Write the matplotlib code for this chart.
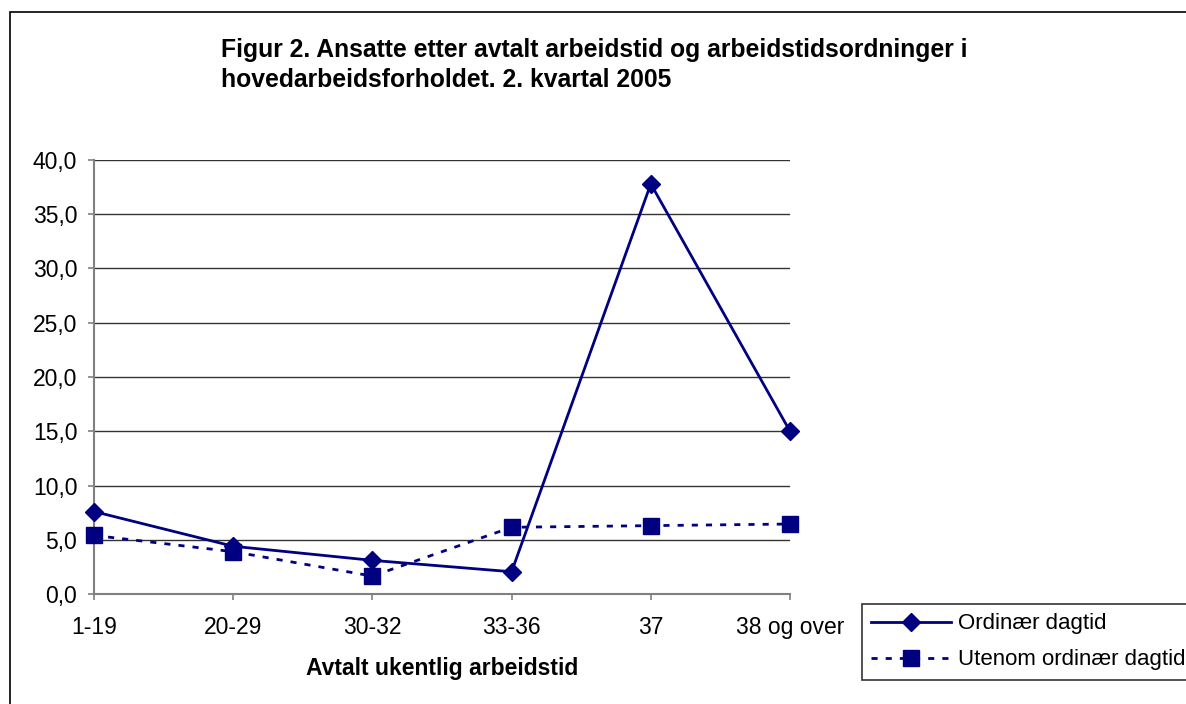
import matplotlib.pyplot as plt
from matplotlib.patches import Rectangle
from matplotlib.ticker import FuncFormatter

plt.rcParams['font.family'] = ['Liberation Sans', 'DejaVu Sans']

categories = ['1-19', '20-29', '30-32', '33-36', '37', '38 og over']
ordinaer = [7.6, 4.4, 3.1, 2.05, 37.8, 15.0]
utenom = [5.4, 3.9, 1.65, 6.15, 6.3, 6.45]

W, H = 1186, 704
fig = plt.figure(figsize=(W / 100, H / 100), dpi=100)
ax = fig.add_axes([94 / W, 1 - 594 / H, (790 - 94) / W, (594 - 160) / H])

# outer chart frame (cut off at right and bottom like the original)
fig.patches.append(Rectangle((10 / W, -0.05), 1.1, 1 - 12 / H + 0.05,
                             transform=fig.transFigure, fill=False,
                             edgecolor='black', linewidth=1.2))

x = range(len(categories))
ax.plot(x, ordinaer, color='#000080', linewidth=2, marker='D', markersize=9,
        label='Ordinær dagtid', clip_on=False, zorder=3)
ax.plot(x, utenom, color='#000080', linewidth=2, linestyle=(0, (2.2, 2.9)),
        marker='s', markersize=11, label='Utenom ordinær dagtid', clip_on=False, zorder=3)

ax.set_xlim(0, 5)
ax.set_ylim(0, 40)
ax.set_yticks(range(0, 41, 5))
ax.yaxis.set_major_formatter(FuncFormatter(lambda v, p: f'{v:.1f}'.replace('.', ',')))
ax.set_xticks(list(x))
ax.set_xticklabels(categories)
ax.grid(axis='y', color='#333333', linewidth=1)
ax.set_axisbelow(True)
for s in ['top', 'right']:
    ax.spines[s].set_visible(False)
for s in ['left', 'bottom']:
    ax.spines[s].set_color('#808080')
    ax.spines[s].set_linewidth(1.5)
ax.tick_params(axis='both', labelsize=16.5, color='#808080', length=4.5, width=1.2)
ax.tick_params(axis='y', pad=7.5)
ax.tick_params(axis='x', pad=11)

ax.set_xlabel('Avtalt ukentlig arbeidstid', fontsize=16.5, fontweight='bold', labelpad=13)

fig.text(221 / W, 1 - 57 / H,
         'Figur 2. Ansatte etter avtalt arbeidstid og arbeidstidsordninger i',
         fontsize=17.8, fontweight='bold', va='baseline', ha='left')
fig.text(221 / W, 1 - 87 / H, 'hovedarbeidsforholdet. 2. kvartal 2005',
         fontsize=17.8, fontweight='bold', va='baseline', ha='left')

leg = fig.legend(loc='upper left', bbox_to_anchor=(862 / W, 1 - 604 / H),
                 fontsize=16, frameon=True, fancybox=False, handlelength=3.6,
                 borderpad=0.42, labelspacing=0.68, handletextpad=0.3, borderaxespad=0)
leg.get_frame().set_edgecolor('black')
leg.get_frame().set_linewidth(1.2)

fig.savefig('out.png', dpi=100)
